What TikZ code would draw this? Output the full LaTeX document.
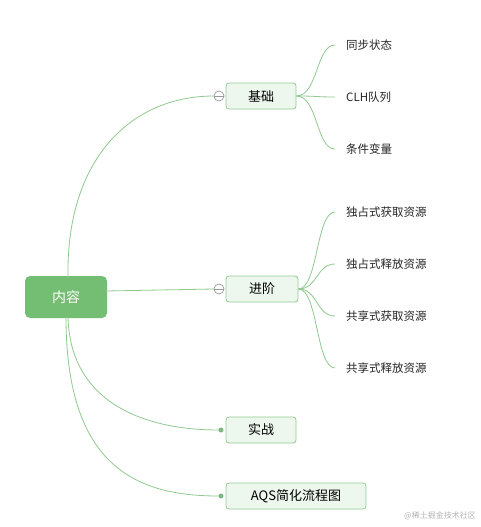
\documentclass[tikz,border=0pt]{standalone}
\usepackage{fontspec}
\newfontfamily\cjk{Noto Sans CJK SC}
\definecolor{lineg}{HTML}{8FC98F}
\definecolor{rootg}{HTML}{74BE74}
\definecolor{boxf}{HTML}{EEF7EE}
\definecolor{boxd}{HTML}{92CA92}
\definecolor{wm}{HTML}{B4B4B4}
\tikzset{
  conn/.style={draw=lineg, line width=0.8pt},
  rootbox/.style={rounded corners=5pt, fill=rootg, text=white, minimum width=82pt, minimum height=42pt, font=\cjk\fontsize{14}{16}\selectfont},
  subbox/.style={rounded corners=3pt, fill=boxf, draw=boxd, line width=0.8pt, minimum height=26pt, font=\cjk\fontsize{13}{15}\selectfont, text=black},
  leaf/.style={anchor=west, inner xsep=11pt, inner ysep=0pt, font=\cjk\fontsize{11.5}{13}\selectfont, text=black!85},
  fold/.style={circle, draw=gray!80, fill=white, line width=0.7pt, minimum size=10pt, inner sep=0pt},
  dotn/.style={circle, fill=lineg!90!black, minimum size=5pt, inner sep=0pt}
}
\begin{document}
\begin{tikzpicture}[x=1pt,y=-1pt]
\useasboundingbox (0,0) rectangle (481,527);
\fill[white] (0,0) rectangle (481,527);
% nodes
\node[rootbox] (root) at (66,297) {内容};
\node[subbox, minimum width=70pt] (jc) at (261,96) {基础};
\node[subbox, minimum width=72pt] (jj) at (262,289) {进阶};
\node[subbox, minimum width=70pt] (sz) at (261,430) {实战};
\node[subbox, minimum width=140pt] (aqs) at (296,496) {AQS简化流程图};
\coordinate (rt) at (68,277);
\coordinate (rb1) at (68,317);
\coordinate (rb2) at (66,317);
\coordinate (rr) at (106,291);
% leaves
\node[leaf] (l1) at (335,45) {同步状态};
\node[leaf] (l2) at (335,97) {CLH队列};
\node[leaf] (l3) at (335,149) {条件变量};
\node[leaf] (m1) at (335,212) {独占式获取资源};
\node[leaf] (m2) at (335,264) {独占式释放资源};
\node[leaf] (m3) at (335,316) {共享式获取资源};
\node[leaf] (m4) at (335,368) {共享式释放资源};
% connectors root -> level 1
\draw[conn] (rt) .. controls (66,160) and (130,96) .. (214,96);
\draw[conn] (rr) -- (214,289);
\draw[conn] (rb1) .. controls (70,400) and (140,430) .. (219,430);
\draw[conn] (rb2) .. controls (66,470) and (140,496) .. (219,496);
% fold markers
\node[fold] (c1) at (219,96) {};
\node[fold] (c2) at (219,289) {};
\draw[gray!80, line width=0.7pt] (c1.west) -- (c1.east);
\draw[gray!80, line width=0.7pt] (c2.west) -- (c2.east);
\node[dotn] (d3) at (221,430) {};
\node[dotn] (d4) at (221,496) {};
% level 2 connectors
\foreach \t in {l1,l2,l3}{
  \draw[conn] (jc.east) .. controls (318,96) and (316,0|-\t.west) .. (\t.west);
}
\foreach \t in {m1,m2,m3,m4}{
  \draw[conn] (jj.east) .. controls (318,289) and (316,0|-\t.west) .. (\t.west);
}
% watermark
\node[anchor=east, text=wm, font=\cjk\fontsize{8}{10}\selectfont, inner sep=0pt] (wmk) at (476,516) {@稀土掘金技术社区};
\end{tikzpicture}
\end{document}
